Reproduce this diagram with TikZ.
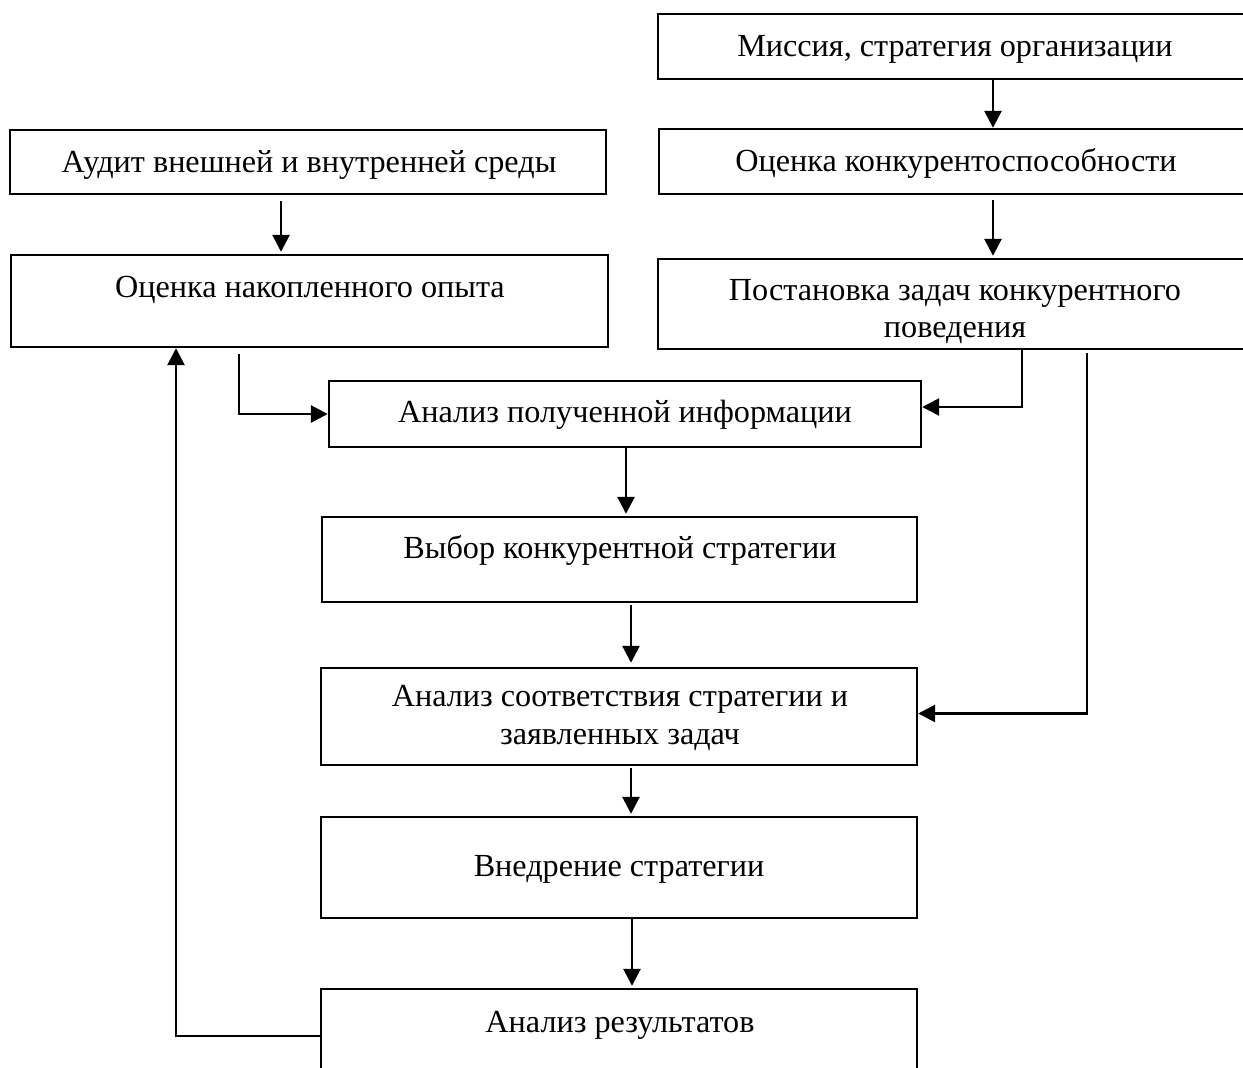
\documentclass[tikz,border=0pt]{standalone}
\usepackage{fontspec}
\setmainfont{Liberation Serif}
\usetikzlibrary{arrows.meta}
\begin{document}
\begin{tikzpicture}[x=1pt,y=-1pt,
  box/.style={draw,line width=2.4pt,inner sep=0pt,rectangle},
  lbl/.style={anchor=base,inner sep=0pt,font=\fontsize{32.2}{38}\selectfont},
  arr/.style={line width=2.7pt,-{Triangle[length=17pt,width=17pt]}},
  ln/.style={line width=2.7pt}]
\useasboundingbox (0,0) rectangle (1243,1068);
\clip (0,0) rectangle (1243,1068);
% boxes
\node[box,minimum width=594pt,minimum height=65pt] (mis) at (955,46.5) {};
\node[box,minimum width=593pt,minimum height=65pt] (ock) at (955.5,161.5) {};
\node[box,minimum width=596pt,minimum height=64pt] (aud) at (308,162) {};
\node[box,minimum width=597pt,minimum height=92pt] (opt) at (309.5,301) {};
\node[box,minimum width=594pt,minimum height=90pt] (post) at (955,304) {};
\node[box,minimum width=592pt,minimum height=66pt] (ani) at (625,414) {};
\node[box,minimum width=595pt,minimum height=85pt] (vyb) at (619.5,559.5) {};
\node[box,minimum width=596pt,minimum height=97pt] (soo) at (619,716.5) {};
\node[box,minimum width=596pt,minimum height=101pt] (vne) at (619,867.5) {};
\node[box,minimum width=596pt,minimum height=91pt] (res) at (619,1034.5) {};
% texts
\node[lbl] (tmis) at (955,56) {Миссия, стратегия организации};
\node[lbl] (tock) at (956,171) {Оценка конкурентоспособности};
\node[lbl] (taud) at (309,172) {Аудит внешней и внутренней среды};
\node[lbl] (topt) at (310,297) {Оценка накопленного опыта};
\node[lbl] (tpost1) at (955,300) {Постановка задач конкурентного};
\node[lbl] (tpost2) at (955,337) {поведения};
\node[lbl] (tani) at (625,422) {Анализ полученной информации};
\node[lbl] (tvyb) at (620,558) {Выбор конкурентной стратегии};
\node[lbl] (tsoo1) at (620,706) {Анализ соответствия стратегии и};
\node[lbl] (tsoo2) at (620,744) {заявленных задач};
\node[lbl] (tvne) at (619,876) {Внедрение стратегии};
\node[lbl] (tres) at (620,1032) {Анализ результатов};
% helper x positions
\coordinate (x993) at (993,0);
\coordinate (x281) at (281,0);
\coordinate (x239) at (239,0);
\coordinate (x1022) at (1022,0);
\coordinate (x1087) at (1087,0);
\coordinate (x626) at (626,0);
\coordinate (x631) at (631,0);
\coordinate (x632) at (632,0);
\coordinate (x176) at (176,0);
% connectors
\draw[arr] (mis.south -| x993) -- (ock.north -| x993);
\draw[arr,shorten <=5pt,shorten >=2pt] (ock.south -| x993) -- (post.north -| x993);
\draw[arr,shorten <=6pt,shorten >=2pt] (aud.south -| x281) -- (opt.north -| x281);
\draw[arr,shorten <=6pt] (opt.south -| x239) |- (ani.west);
\draw[arr] (post.south -| x1022) |- ([yshift=7pt]ani.east);
\draw[arr,shorten <=3pt] (post.south -| x1087) |- ([yshift=3pt]soo.east);
\draw[arr,shorten >=2pt] (ani.south -| x626) -- (vyb.north -| x626);
\draw[arr,shorten <=2pt,shorten >=4pt] (vyb.south -| x631) -- (soo.north -| x631);
\draw[arr,shorten <=2pt,shorten >=2pt] (soo.south -| x631) -- (vne.north -| x631);
\draw[arr,shorten >=2pt] (vne.south -| x632) -- (res.north -| x632);
\draw[arr] ([yshift=-1.5pt]res.west) -| (opt.south -| x176);
\end{tikzpicture}
\end{document}
